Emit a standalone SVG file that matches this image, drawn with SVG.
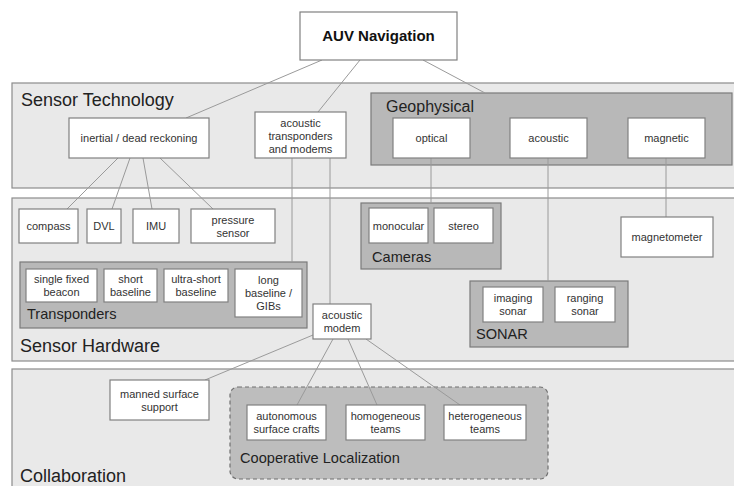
<svg xmlns="http://www.w3.org/2000/svg" width="734" height="486" viewBox="0 0 734 486">
<style>
.panel{fill:#e9e9e9;stroke:#8c8c8c;stroke-width:1.2}
.cont{fill:#b8b8b8;stroke:#7a7a7a;stroke-width:1.2}
.coop{fill:#bdbdbd;stroke:#707070;stroke-width:1.2;stroke-dasharray:4 3}
.box{fill:#ffffff;stroke:#808080;stroke-width:1.2}
.t{font-family:"Liberation Sans",Arial,sans-serif;font-size:11px;fill:#333;text-anchor:middle}
.pl{font-family:"Liberation Sans",Arial,sans-serif;font-size:18px;fill:#222}
.cl{font-family:"Liberation Sans",Arial,sans-serif;font-size:14.6px;fill:#222}
.title{font-family:"Liberation Sans",Arial,sans-serif;font-size:15px;font-weight:bold;fill:#111;text-anchor:middle}
.c line{stroke:#9a9a9a;stroke-width:1}
</style>
<rect width="734" height="486" fill="#ffffff"/>
<g id="panel-sensor-technology">
<rect class="panel" x="12" y="83" width="730" height="105"/>
<text class="pl" x="21" y="106">Sensor Technology</text>
</g>
<g id="panel-sensor-hardware">
<rect class="panel" x="12" y="198" width="730" height="163"/>
<text class="pl" x="20" y="352">Sensor Hardware</text>
</g>
<g id="panel-collaboration">
<rect class="panel" x="12" y="369" width="730" height="130"/>
<text class="pl" x="20" y="482">Collaboration</text>
</g>
<g id="geophysical">
<rect class="cont" x="371" y="93" width="361" height="72"/>
<text class="cl" x="386" y="112" style="font-size:16px">Geophysical</text>
</g>
<g id="transponders">
<rect class="cont" x="20" y="262" width="287" height="66"/>
<text class="cl" x="27" y="319">Transponders</text>
</g>
<g id="cameras">
<rect class="cont" x="361" y="203" width="140" height="66"/>
<text class="cl" x="372" y="262">Cameras</text>
</g>
<g id="sonar">
<rect class="cont" x="470" y="281" width="158" height="66"/>
<text class="cl" x="476" y="339">SONAR</text>
</g>
<g id="cooperative-localization">
<rect class="coop" x="230" y="387" width="318" height="92" rx="8"/>
<text class="cl" x="240" y="463">Cooperative Localization</text>
</g>
<g id="connectors" class="c">
<line x1="322" y1="60" x2="186" y2="118"/>
<line x1="360" y1="60" x2="318" y2="112"/>
<line x1="423" y1="60" x2="485" y2="93"/>
<line x1="118" y1="158" x2="67" y2="209"/>
<line x1="130" y1="158" x2="112" y2="209"/>
<line x1="143" y1="158" x2="152" y2="209"/>
<line x1="160" y1="158" x2="213" y2="209"/>
<line x1="292" y1="158" x2="292" y2="262"/>
<line x1="330" y1="158" x2="330" y2="304"/>
<line x1="431" y1="158" x2="431" y2="203"/>
<line x1="548" y1="158" x2="548" y2="281"/>
<line x1="666" y1="158" x2="666" y2="217"/>
<line x1="313" y1="335" x2="205" y2="380"/>
<line x1="333" y1="339" x2="297" y2="405"/>
<line x1="348" y1="339" x2="377" y2="405"/>
<line x1="366" y1="339" x2="460" y2="405"/>
</g>
<g id="auv-navigation">
<rect class="box" x="300" y="12" width="157" height="48"/>
<text class="title" x="378.5" y="41">AUV Navigation</text>
</g>
<g id="inertial">
<rect class="box" x="69" y="118" width="140" height="40"/>
<text class="t" x="139" y="142">inertial / dead reckoning</text>
</g>
<g id="acoustic-transponders">
<rect class="box" x="255" y="112" width="91" height="46"/>
<text class="t" x="300.5" y="127">acoustic</text>
<text class="t" x="300.5" y="140">transponders</text>
<text class="t" x="300.5" y="153">and modems</text>
</g>
<g id="optical">
<rect class="box" x="393" y="118" width="77" height="40"/>
<text class="t" x="431.5" y="142">optical</text>
</g>
<g id="acoustic">
<rect class="box" x="510" y="118" width="77" height="40"/>
<text class="t" x="548.5" y="142">acoustic</text>
</g>
<g id="magnetic">
<rect class="box" x="628" y="118" width="77" height="40"/>
<text class="t" x="666.5" y="142">magnetic</text>
</g>
<g id="compass">
<rect class="box" x="19" y="209" width="59" height="34"/>
<text class="t" x="48.5" y="230">compass</text>
</g>
<g id="dvl">
<rect class="box" x="87" y="209" width="34" height="34"/>
<text class="t" x="104" y="230">DVL</text>
</g>
<g id="imu">
<rect class="box" x="133" y="209" width="46" height="34"/>
<text class="t" x="156" y="230">IMU</text>
</g>
<g id="pressure-sensor">
<rect class="box" x="191" y="209" width="84" height="34"/>
<text class="t" x="233" y="223.5">pressure</text>
<text class="t" x="233" y="236.5">sensor</text>
</g>
<g id="single-fixed-beacon">
<rect class="box" x="26" y="269" width="71" height="33"/>
<text class="t" x="61.5" y="283">single fixed</text>
<text class="t" x="61.5" y="296">beacon</text>
</g>
<g id="short-baseline">
<rect class="box" x="104" y="269" width="53" height="33"/>
<text class="t" x="130.5" y="283">short</text>
<text class="t" x="130.5" y="296">baseline</text>
</g>
<g id="ultra-short-baseline">
<rect class="box" x="164" y="269" width="64" height="33"/>
<text class="t" x="196" y="283">ultra-short</text>
<text class="t" x="196" y="296">baseline</text>
</g>
<g id="long-baseline">
<rect class="box" x="235" y="269" width="67" height="48"/>
<text class="t" x="268.5" y="284">long</text>
<text class="t" x="268.5" y="297">baseline /</text>
<text class="t" x="268.5" y="310">GIBs</text>
</g>
<g id="acoustic-modem">
<rect class="box" x="313" y="304" width="58" height="35"/>
<text class="t" x="342" y="319">acoustic</text>
<text class="t" x="342" y="332">modem</text>
</g>
<g id="monocular">
<rect class="box" x="369" y="208" width="59" height="35"/>
<text class="t" x="398.5" y="229.5">monocular</text>
</g>
<g id="stereo">
<rect class="box" x="434" y="208" width="59" height="35"/>
<text class="t" x="463.5" y="229.5">stereo</text>
</g>
<g id="magnetometer">
<rect class="box" x="621" y="217" width="92" height="40"/>
<text class="t" x="667" y="241">magnetometer</text>
</g>
<g id="imaging-sonar">
<rect class="box" x="483" y="287" width="60" height="35"/>
<text class="t" x="513" y="302">imaging</text>
<text class="t" x="513" y="315">sonar</text>
</g>
<g id="ranging-sonar">
<rect class="box" x="555" y="287" width="60" height="35"/>
<text class="t" x="585" y="302">ranging</text>
<text class="t" x="585" y="315">sonar</text>
</g>
<g id="manned-surface-support">
<rect class="box" x="110" y="380" width="99" height="40"/>
<text class="t" x="159.5" y="397.5">manned surface</text>
<text class="t" x="159.5" y="410.5">support</text>
</g>
<g id="autonomous-surface-crafts">
<rect class="box" x="247" y="405" width="79" height="35"/>
<text class="t" x="286.5" y="420">autonomous</text>
<text class="t" x="286.5" y="433">surface crafts</text>
</g>
<g id="homogeneous-teams">
<rect class="box" x="346" y="405" width="79" height="35"/>
<text class="t" x="385.5" y="420">homogeneous</text>
<text class="t" x="385.5" y="433">teams</text>
</g>
<g id="heterogeneous-teams">
<rect class="box" x="444" y="405" width="82" height="35"/>
<text class="t" x="485" y="420">heterogeneous</text>
<text class="t" x="485" y="433">teams</text>
</g>
</svg>
